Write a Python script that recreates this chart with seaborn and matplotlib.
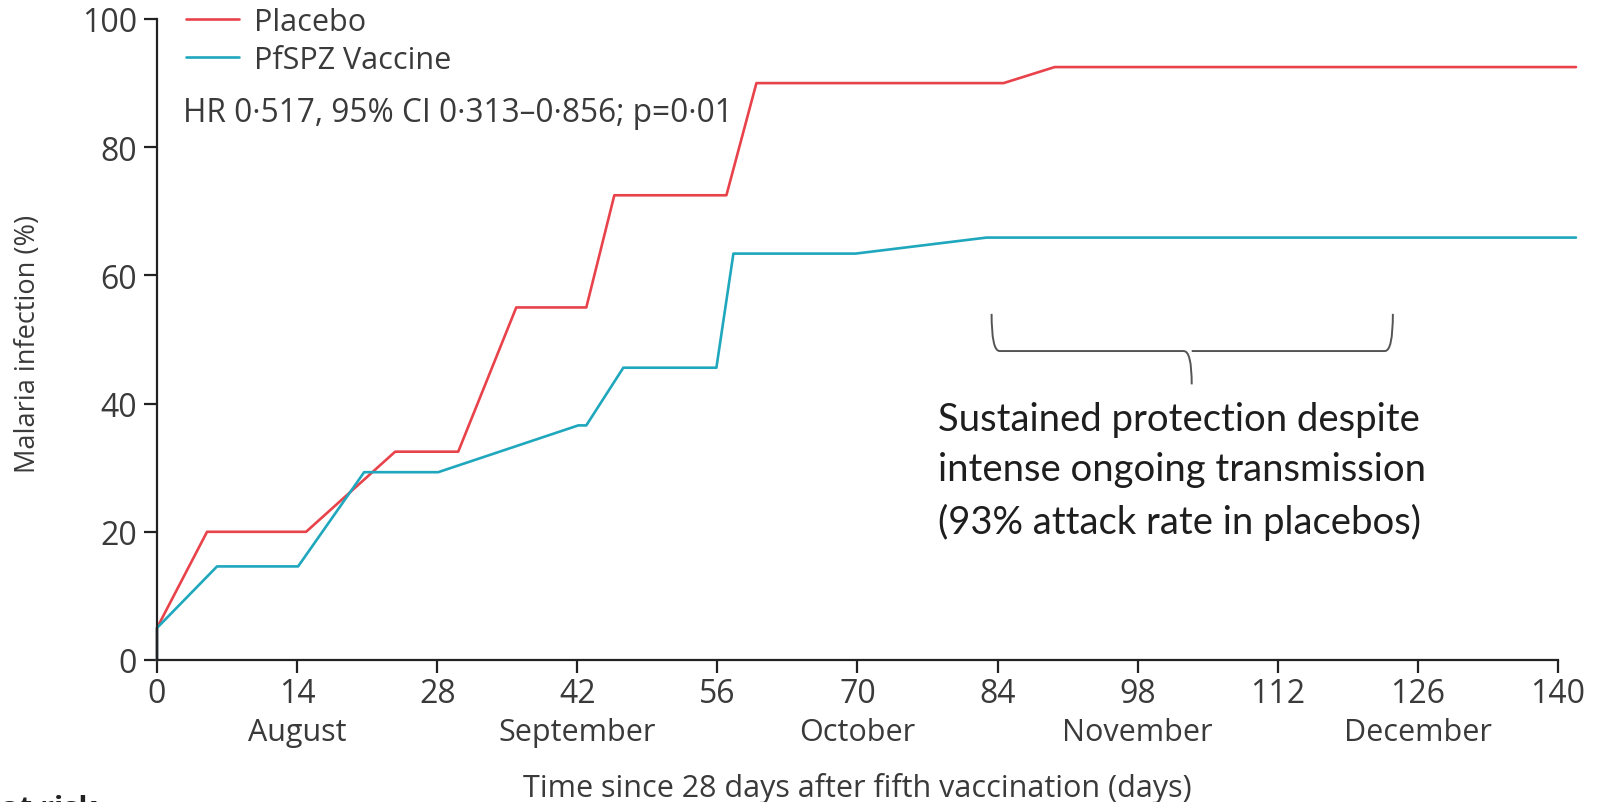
import matplotlib
matplotlib.use("Agg")
import matplotlib.pyplot as plt
import seaborn as sns
import pandas as pd
from matplotlib.path import Path
from matplotlib.patches import PathPatch

# ---- data ----
placebo_days = [0, 0, 5.0, 14.9, 23.8, 30.1, 35.9, 42.9, 45.7, 56.9, 59.9, 84.6, 89.7, 141.8]
placebo_pct = [0, 5.0, 20.0, 20.0, 32.5, 32.5, 55.0, 55.0, 72.5, 72.5, 90.0, 90.0, 92.5, 92.5]
vaccine_days = [0, 0, 6.0, 14.1, 20.7, 28.1, 42.1, 42.9, 46.6, 55.9, 57.6, 69.8, 82.9, 141.8]
vaccine_pct = [0, 5.0, 14.6, 14.6, 29.3, 29.3, 36.6, 36.6, 45.6, 45.6, 63.4, 63.4, 65.9, 65.9]
series_names = ["Placebo", "PfSPZ Vaccine"]
x_ticks = [0, 14, 28, 42, 56, 70, 84, 98, 112, 126, 140]
y_ticks = [0, 20, 40, 60, 80, 100]
month_pos = [14, 42, 70, 98, 126]
month_labels = ["August", "September", "October", "November", "December"]
stats_text = "HR 0\u00b7517, 95% CI 0\u00b7313\u20130\u00b7856; p=0\u00b701"
note_text = "Sustained protection despite\nintense ongoing transmission\n(93% attack rate in placebos)"
brace_x = (83.4, 103.4, 123.5)   # left end, tip, right end (days)
brace_y = (54.0, 48.2, 43.0)     # top of arms, bar level, tip (%)

df = pd.concat([
    pd.DataFrame({"day": placebo_days, "pct": placebo_pct, "group": series_names[0]}),
    pd.DataFrame({"day": vaccine_days, "pct": vaccine_pct, "group": series_names[1]}),
], ignore_index=True)

sns.set_style("ticks")
plt.rcParams["font.family"] = ["Open Sans", "DejaVu Sans"]
TXT = "#3a3a3a"
FS = 22

fig = plt.figure(figsize=(15.98, 8.03), dpi=100)
ax = fig.add_axes([157 / 1598, 1 - 661 / 803, (1578 - 157) / 1598, (661 - 20) / 803])

palette = {"Placebo": "#E8424B", "PfSPZ Vaccine": "#1FA7BD"}
sns.lineplot(data=df, x="day", y="pct", hue="group", hue_order=series_names,
             palette=palette, estimator=None, sort=False, linewidth=1.9,
             ax=ax, legend=True, clip_on=False)

ax.set_xlim(0, 142)
ax.set_ylim(0, 100)
ax.spines["top"].set_visible(False)
ax.spines["right"].set_visible(False)
ax.spines["bottom"].set_bounds(0, 140)
for s in ("left", "bottom"):
    ax.spines[s].set_linewidth(1.6)
    ax.spines[s].set_color("#222222")
ax.set_xticks(x_ticks)
ax.set_yticks(y_ticks)
ax.tick_params(axis="both", direction="out", length=9.5, width=1.6, color="#222222",
               labelsize=23, labelcolor=TXT)
ax.tick_params(axis="x", pad=3)
ax.tick_params(axis="y", pad=5)

ax.set_xlabel("Time since 28 days after fifth vaccination (days)", fontsize=FS, color=TXT)
ax.xaxis.set_label_coords(70 / 142, -0.174)
ax.set_ylabel("Malaria infection (%)", fontsize=19.5, color=TXT)
ax.yaxis.set_label_coords(-0.081, 0.494)

for xp, lab in zip(month_pos, month_labels):
    ax.text(xp, -11.2, lab, ha="center", va="center", fontsize=FS, color=TXT,
            transform=ax.transData, clip_on=False)

leg = ax.legend(loc="upper left", bbox_to_anchor=(186 / 1598, 1 - 8 / 803),
                bbox_transform=fig.transFigure, frameon=False, fontsize=FS,
                handlelength=1.73, handletextpad=0.5, labelspacing=0.25,
                borderpad=0, borderaxespad=0)
for t in leg.get_texts():
    t.set_color(TXT)
for h in leg.get_lines():
    h.set_linewidth(1.9)

fig.text(183 / 1598, 1 - 113 / 803, stats_text, ha="left", va="center", fontsize=22.8, color=TXT)

# brace
lx, tx, rx = brace_x
ty, by, tipy = brace_y
verts = [(lx, ty), (lx, by), (lx + 0.8, by),
         (tx - 0.8, by), (tx, by), (tx, tipy),
         (tx, by), (tx + 0.8, by),
         (rx - 0.8, by), (rx, by), (rx, ty)]
codes = [Path.MOVETO, Path.CURVE3, Path.CURVE3,
         Path.LINETO, Path.CURVE3, Path.CURVE3,
         Path.MOVETO, Path.LINETO,
         Path.LINETO, Path.CURVE3, Path.CURVE3]
ax.add_patch(PathPatch(Path(verts, codes), fill=False, edgecolor="#555555", linewidth=1.4))

ax.text(78.0, 29.6, note_text, ha="left", va="center", fontsize=27.5, color="#1e1e1e",
        family=["Lato", "DejaVu Sans"], linespacing=1.5)

fig.text(97 / 1598, 1 - 795 / 803, "Number at risk", ha="right", va="top", fontsize=FS,
         fontweight="bold", color="#222222")

fig.savefig("out.png", dpi=100)
